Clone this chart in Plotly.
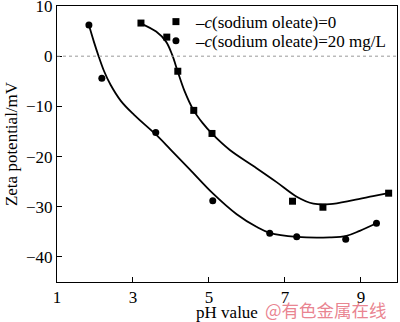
import plotly.graph_objects as go

# measured points
ph_0 = [3.21, 3.89, 4.18, 4.60, 5.08, 7.20, 8.00, 9.73]
zeta_0 = [6.6, 3.8, -3.0, -10.8, -15.4, -28.9, -30.1, -27.3]
ph_20 = [1.84, 2.18, 3.60, 5.10, 6.60, 7.31, 8.60, 9.41]
zeta_20 = [6.2, -4.4, -15.2, -28.8, -35.3, -36.0, -36.5, -33.3]

# fitted curves
curve_ph_0 = [3.21, 3.61, 3.87, 4.03, 4.18, 4.35, 4.59, 4.83, 5.10, 5.55, 6.17, 6.78, 7.31, 7.75, 8.18, 8.80, 9.32, 9.72]
curve_zeta_0 = [6.5, 4.9, 2.9, 0.3, -3.1, -6.8, -10.7, -13.3, -15.6, -18.7, -21.9, -25.1, -28.0, -29.4, -29.5, -28.7, -27.9, -27.3]
curve_ph_20 = [1.84, 1.97, 2.10, 2.24, 2.41, 2.68, 3.03, 3.60, 3.99, 4.50, 5.11, 5.73, 6.25, 6.60, 7.31, 8.18, 8.62, 8.97, 9.41]
curve_zeta_20 = [6.2, 2.9, -0.1, -3.0, -5.7, -8.9, -11.7, -15.6, -18.6, -22.6, -27.4, -31.5, -34.0, -35.2, -36.0, -36.1, -35.8, -34.8, -33.3]

names = ["–<i>c</i>(sodium oleate)=0", "–<i>c</i>(sodium oleate)=20 mg/L"]
x_ticks = [1, 3, 5, 7, 9]
y_ticks = [-40, -30, -20, -10, 0, 10]

FONT = "Liberation Serif, Times New Roman, serif"

fig = go.Figure()
fig.add_trace(go.Scatter(x=curve_ph_0, y=curve_zeta_0, mode="lines", line=dict(color="black", width=1.8, shape="spline", smoothing=1), showlegend=False, hoverinfo="skip"))
fig.add_trace(go.Scatter(x=curve_ph_20, y=curve_zeta_20, mode="lines", line=dict(color="black", width=1.8, shape="spline", smoothing=1), showlegend=False, hoverinfo="skip"))
fig.add_trace(go.Scatter(x=ph_0, y=zeta_0, mode="markers", name=names[0], legend="legend",
                         marker=dict(symbol="square", size=7, color="black")))
fig.add_trace(go.Scatter(x=ph_20, y=zeta_20, mode="markers", name=names[1], legend="legend2",
                         marker=dict(symbol="circle", size=7, color="black")))

fig.add_hline(y=0, line=dict(color="#999999", width=1, dash="dot"))

fig.add_annotation(text="@有色金属在线", xref="paper", yref="paper", x=0.79, y=-0.101,
                   xanchor="center", yanchor="middle", showarrow=False,
                   font=dict(family="Noto Sans CJK SC", size=17.5, color="rgba(228,100,115,0.8)"))

LEG_X = 0.291
leg_common = dict(xanchor="left", yanchor="top", bgcolor="rgba(0,0,0,0)",
                  font=dict(family=FONT, size=17), itemwidth=30)

fig.update_layout(
    width=400, height=322,
    margin=dict(l=57, r=3, t=6, b=40, autoexpand=False),
    paper_bgcolor="white", plot_bgcolor="white",
    font=dict(family=FONT, size=17, color="black"),
    legend=dict(x=LEG_X, y=1.007, **leg_common),
    legend2=dict(x=LEG_X, y=0.938, **leg_common),
    xaxis=dict(range=[1, 9.95], tickvals=x_ticks, ticks="inside", ticklen=5, tickwidth=1,
               tickcolor="black", showline=True, linecolor="black", linewidth=1, mirror=True,
               showgrid=False, zeroline=False, automargin=False,
               title=dict(text="pH value", standoff=3, font=dict(family=FONT, size=17))),
    yaxis=dict(range=[-45, 10], tickvals=y_ticks, ticks="inside", ticklen=5, tickwidth=1,
               tickcolor="black", showline=True, linecolor="black", linewidth=1, mirror=True,
               showgrid=False, zeroline=False, ticklabeloverflow="allow", automargin=False,
               title=dict(text="Zeta potential/mV", standoff=4, font=dict(family=FONT, size=17))),
)

fig.write_html("out.html")
